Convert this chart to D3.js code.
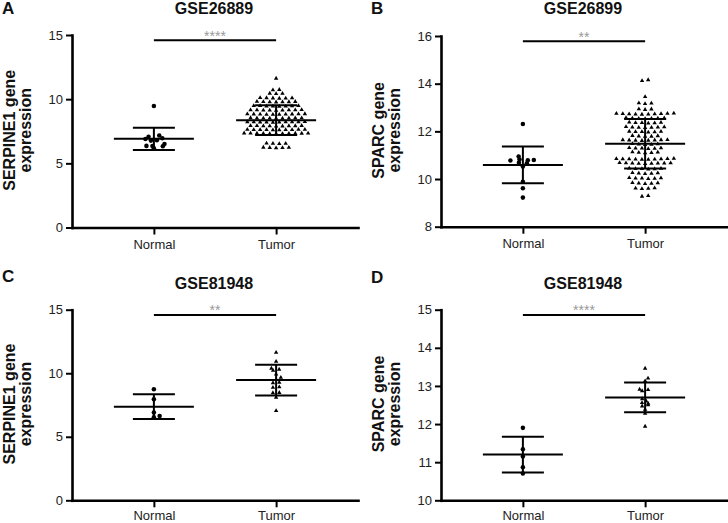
<!DOCTYPE html>
<html>
<head>
<meta charset="utf-8">
<script src="https://cdn.jsdelivr.net/npm/d3@7"></script>
<style>
  body { margin: 0; background: #fff; }
  svg { display: block; }
  text { font-family: Arial, "Liberation Sans", Helvetica, sans-serif; }
</style>
</head>
<body>
<svg id="chart" width="728" height="523"></svg>
<script>
// ---------------- DATA ----------------
const categories = ["Normal", "Tumor"];
const panelLetters = ["A", "B", "C", "D"];
const panelTitles = ["GSE26889", "GSE26899", "GSE81948", "GSE81948"];
const yLabelLines = [
  ["SERPINE1 gene", "expression"],
  ["SPARC gene", "expression"],
  ["SERPINE1 gene", "expression"],
  ["SPARC gene", "expression"]
];
const yDomains = [[0, 15], [8, 16], [0, 15], [10, 15]];
const yTickValues = [[0, 5, 10, 15], [8, 10, 12, 14, 16], [0, 5, 10, 15], [10, 11, 12, 13, 14, 15]];
const sigLabels = ["****", "**", "**", "****"];

const normalMeans = [6.91, 10.59, 7.37, 11.20];
const normalSDs   = [0.87, 0.77, 0.97, 0.47];
const tumorMeans  = [8.36, 11.48, 9.46, 12.70];
const tumorSDs    = [1.16, 1.04, 1.21, 0.39];

// Panel A: SERPINE1, GSE26889
const normalA = [9.47, 7.16, 6.95, 6.77, 6.79, 6.90, 7.08, 6.50, 6.35, 6.36, 6.34, 6.17];
const tumorA = [
  11.62,
  10.74, 10.71,
  10.45, 10.42, 10.44,
  10.10, 10.08, 10.06, 10.11, 10.07, 10.09,
  9.80, 9.78, 9.77, 9.81, 9.79, 9.82, 9.78,
  9.48, 9.46, 9.45, 9.47, 9.49, 9.44, 9.46, 9.48,
  9.15, 9.13, 9.16, 9.14, 9.17, 9.12, 9.15, 9.14, 9.16,
  8.83, 8.81, 8.84, 8.82, 8.80, 8.83, 8.85, 8.81, 8.82, 8.84,
  8.52, 8.50, 8.53, 8.51, 8.54, 8.52, 8.49, 8.53, 8.51,
  8.22, 8.20, 8.23, 8.21, 8.24, 8.22, 8.19, 8.23, 8.21, 8.22,
  7.92, 7.90, 7.93, 7.91, 7.94, 7.92, 7.89, 7.93, 7.91,
  7.62, 7.60, 7.63, 7.61, 7.64, 7.62, 7.59, 7.63, 7.61, 7.62,
  7.33, 7.31, 7.34, 7.32, 7.35, 7.33, 7.30, 7.34, 7.32, 7.33, 7.31,
  6.55, 6.53, 6.56, 6.54,
  6.22, 6.20, 6.23, 6.21, 6.24
];

// Panel B: SPARC, GSE26899
const normalB = [12.31, 10.94, 10.82, 10.80, 10.79, 10.78, 10.68, 10.66, 10.53, 9.89, 9.61, 9.22];
const tumorB = [
  14.16, 14.12,
  13.45,
  13.18, 13.16, 13.19,
  12.93, 12.91, 12.94,
  12.73, 12.75, 12.72, 12.74, 12.76, 12.73, 12.71, 12.75, 12.74, 12.72,
  12.55, 12.54, 12.56, 12.53, 12.57, 12.55, 12.54,
  12.36, 12.35, 12.37, 12.34, 12.38, 12.36,
  12.17, 12.16, 12.18, 12.15, 12.19, 12.17, 12.16,
  11.98, 11.97, 11.99, 11.96, 12.00, 11.98,
  11.80, 11.79, 11.81, 11.78, 11.82,
  11.63, 11.62, 11.64, 11.61, 11.65, 11.63, 11.62, 11.64,
  11.46, 11.45, 11.47, 11.44, 11.48,
  11.29, 11.28, 11.30, 11.27, 11.31, 11.29,
  11.11, 11.10, 11.12, 11.09, 11.13,
  10.84, 10.83, 10.85, 10.82, 10.86, 10.84, 10.83, 10.85, 10.84, 10.82,
  10.66, 10.65, 10.67, 10.64, 10.68, 10.66, 10.65, 10.67, 10.66,
  10.43, 10.42, 10.44, 10.41, 10.45, 10.43,
  10.24, 10.23, 10.25, 10.22, 10.26,
  10.03, 10.02, 10.04, 10.01, 10.05, 10.03,
  9.82, 9.81, 9.83, 9.80, 9.84,
  9.61, 9.60, 9.62, 9.59,
  9.30, 9.27
];

// Panel C: SERPINE1, GSE81948
const normalC = [8.74, 7.95, 6.90, 6.53, 6.63];
const tumorC = [11.63, 10.92, 10.38, 10.30, 10.22, 9.92, 9.66, 9.50, 9.28, 9.24, 8.91, 8.88, 8.47, 8.45, 8.10, 7.05];

// Panel D: SPARC, GSE81948
const normalD = [11.90, 11.34, 11.15, 10.87, 10.70];
const tumorD = [13.46, 13.20, 13.13, 12.91, 12.90, 12.87, 12.66, 12.60, 12.56, 12.54, 12.50, 12.47, 12.38, 12.28, 11.94];

const normalSeries = [normalA, normalB, normalC, normalD];
const tumorSeries = [tumorA, tumorB, tumorC, tumorD];

// ---------------- LAYOUT ----------------
const frames = [
  { axisX: 72,  top: 35,    bottom: 227.5, letterY: 13.5,  titleY: 14.2,  labelPad: 5 },
  { axisX: 441, top: 36,    bottom: 226.7, letterY: 13.5,  titleY: 14.2,  labelPad: 5 },
  { axisX: 72,  top: 309.7, bottom: 500.3, letterY: 282,   titleY: 288.5, labelPad: 3.5 },
  { axisX: 441, top: 309.7, bottom: 500.3, letterY: 282.5, titleY: 288.5, labelPad: 3.5 }
];
const axisLen = 286;

// beeswarm dodge computed from values, then each row re-centred
function dodge(values, y, sx, ry) {
  const pts = values.map((v, i) => ({ v, i, py: y(v), dx: 0 }))
    .sort((a, b) => a.v - b.v);
  const placed = [];
  for (const p of pts) {
    const cands = [0];
    for (const q of placed) {
      const dy = Math.abs(q.py - p.py);
      if (dy < ry) {
        const w = sx * Math.sqrt(1 - (dy / ry) ** 2);
        cands.push(q.dx + w, q.dx - w);
      }
    }
    cands.sort((a, b) => (Math.abs(a) - Math.abs(b)) || (b - a));
    for (const c of cands) {
      const ok = placed.every(q => {
        const ddy = (q.py - p.py) / ry, ddx = (q.dx - c) / sx;
        return ddx * ddx + ddy * ddy >= 0.995;
      });
      if (ok) { p.dx = c; break; }
    }
    placed.push(p);
  }
  // re-centre rows (points within ~1.2px vertically)
  let row = [];
  const flush = () => {
    if (row.length > 1) {
      const m = d3.mean(row, d => d.dx);
      row.forEach(d => { d.dx -= m; });
    }
    row = [];
  };
  placed.forEach(p => {
    if (row.length && Math.abs(p.py - row[0].py) > 1.2) flush();
    row.push(p);
  });
  flush();
  return placed;
}

const svg = d3.select("#chart");

frames.forEach((f, i) => {
  const g = svg.append("g");
  const y = d3.scaleLinear().domain(yDomains[i]).range([f.bottom, f.top]);
  const x = d3.scalePoint().domain(categories).range([f.axisX, f.axisX + axisLen]).padding(0.67);

  // points
  const circle = d3.symbol(d3.symbolCircle, 16);
  const tri = d3.symbol(d3.symbolTriangle, 8.5);
  const nPts = dodge(normalSeries[i], y, 6, 4.5);
  const tPts = dodge(tumorSeries[i], y, 6.4, 3.0);
  g.append("g").selectAll("path").data(nPts).join("path")
    .attr("d", circle)
    .attr("transform", d => `translate(${x("Normal") + d.dx},${d.py})`)
    .attr("fill", "#000");
  g.append("g").selectAll("path").data(tPts).join("path")
    .attr("d", tri)
    .attr("transform", d => `translate(${x("Tumor") + d.dx},${d.py})`)
    .attr("fill", "#000");

  // mean & SD bars
  const stats = [
    { c: "Normal", m: normalMeans[i], s: normalSDs[i] },
    { c: "Tumor", m: tumorMeans[i], s: tumorSDs[i] }
  ];
  const bars = g.append("g").attr("stroke", "#000").attr("stroke-width", 2).attr("fill", "none");
  stats.forEach(st => {
    const cx = x(st.c);
    bars.append("line").attr("x1", cx).attr("x2", cx).attr("y1", y(st.m - st.s)).attr("y2", y(st.m + st.s));
    bars.append("line").attr("x1", cx - 21).attr("x2", cx + 21).attr("y1", y(st.m + st.s)).attr("y2", y(st.m + st.s));
    bars.append("line").attr("x1", cx - 21).attr("x2", cx + 21).attr("y1", y(st.m - st.s)).attr("y2", y(st.m - st.s));
    bars.append("line").attr("x1", cx - 40).attr("x2", cx + 40).attr("y1", y(st.m)).attr("y2", y(st.m));
  });

  // axes
  const yAxis = g.append("g").attr("transform", `translate(${f.axisX},0)`)
    .call(d3.axisLeft(y).tickValues(yTickValues[i]).tickSize(6).tickSizeOuter(0).tickPadding(3).tickFormat(d3.format("d")));
  const xAxis = g.append("g").attr("transform", `translate(0,${f.bottom})`)
    .call(d3.axisBottom(x).tickSize(7).tickSizeOuter(0).tickPadding(f.labelPad));
  [yAxis, xAxis].forEach(ax => {
    ax.select(".domain").attr("stroke", "#000").attr("stroke-width", 2.6).attr("stroke-linecap", "square");
    ax.selectAll(".tick line").attr("stroke", "#000").attr("stroke-width", 2);
    ax.selectAll(".tick text").attr("font-size", 13).attr("fill", "#222")
      .attr("font-family", 'Arial, "Liberation Sans", sans-serif');
  });

  // significance
  const sy = f.top + 5.2;
  g.append("line").attr("x1", x("Normal")).attr("x2", x("Tumor")).attr("y1", sy).attr("y2", sy)
    .attr("stroke", "#000").attr("stroke-width", 2);
  g.append("text").attr("x", (x("Normal") + x("Tumor")) / 2).attr("y", sy + 0.5)
    .attr("text-anchor", "middle").attr("font-size", 14).attr("fill", "#999")
    .text(sigLabels[i]);

  // title
  g.append("text").attr("x", (x("Normal") + x("Tumor")) / 2 - 1).attr("y", f.titleY)
    .attr("text-anchor", "middle").attr("font-size", 16).attr("font-weight", "bold").attr("fill", "#111")
    .text(panelTitles[i]);

  // panel letter
  g.append("text").attr("x", f.axisX - 70).attr("y", f.letterY)
    .attr("font-size", 17).attr("font-weight", "bold").attr("fill", "#111")
    .text(panelLetters[i]);

  // y label
  const yl = g.append("text")
    .attr("transform", `translate(${f.axisX - 57.5},${(f.top + f.bottom) / 2 - 1}) rotate(-90)`)
    .attr("text-anchor", "middle").attr("font-size", 16).attr("font-weight", "bold").attr("fill", "#111");
  yLabelLines[i].forEach((t, k) => {
    yl.append("tspan").attr("x", 0).attr("dy", k === 0 ? 0 : 16).text(t);
  });
});
</script>
</body>
</html>
